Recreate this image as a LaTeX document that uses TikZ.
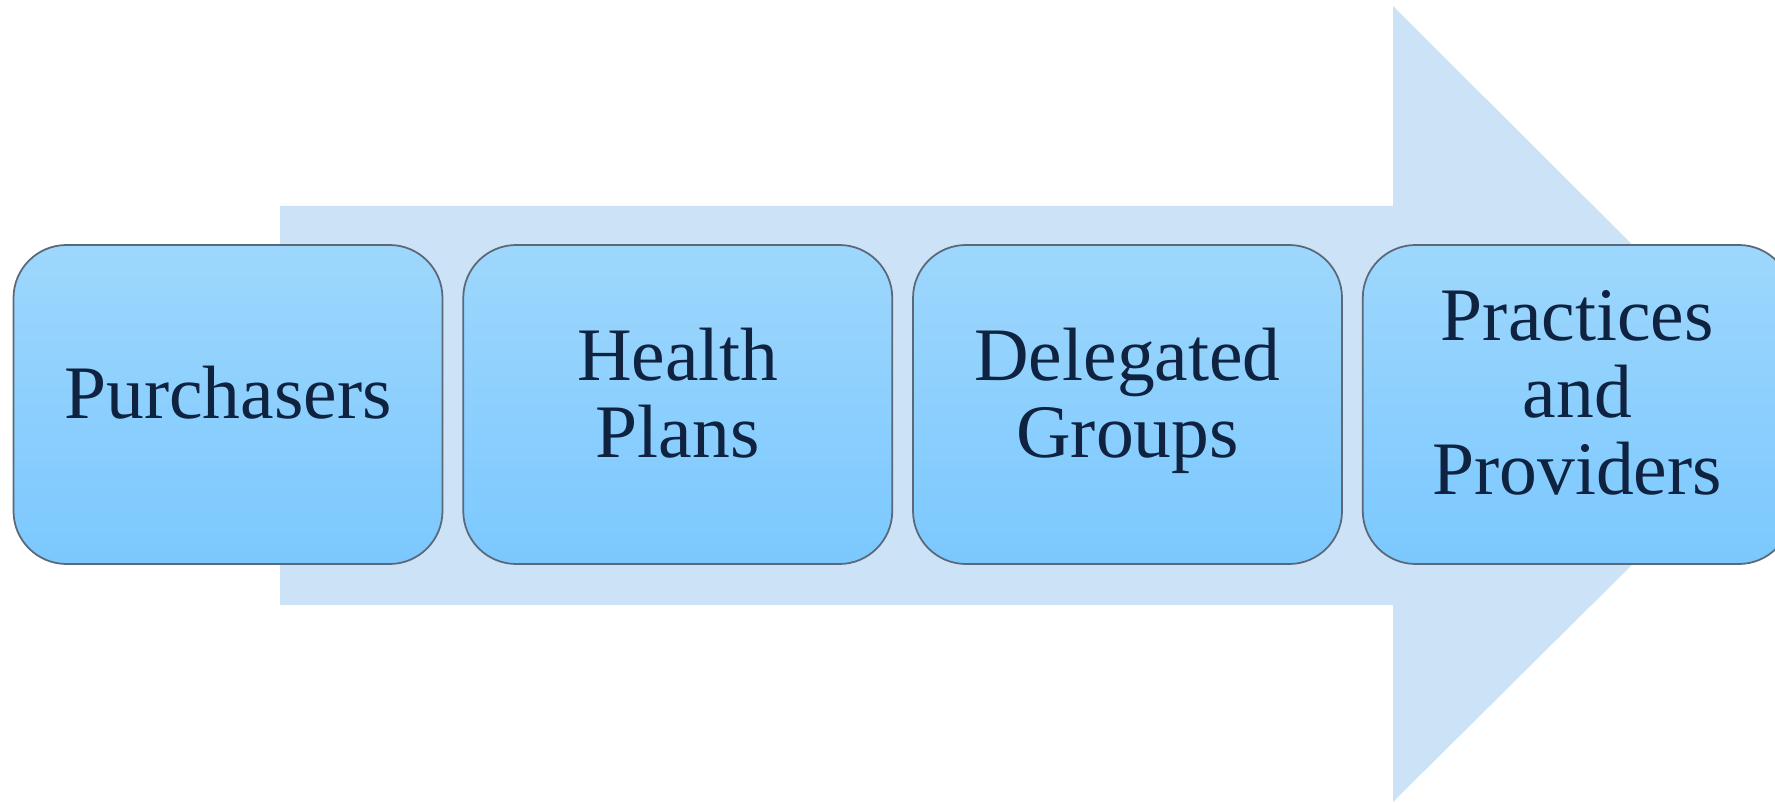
\documentclass[tikz,border=0pt]{standalone}
\usepackage{fontspec}
\setmainfont{Liberation Serif}
\usepackage{tikz}
\usetikzlibrary{positioning}
\definecolor{flowarrow}{HTML}{CCE2F7}
\definecolor{stagetop}{HTML}{9ED7FD}
\definecolor{stagebottom}{HTML}{7BC8FE}
\definecolor{stageline}{HTML}{5A6878}
\definecolor{stagetext}{HTML}{0F2341}

\begin{document}
\begin{tikzpicture}[
    stagebox/.style={
        draw=stageline,
        line width=0.5pt,
        top color=stagetop,
        bottom color=stagebottom,
        rounded corners=0.53cm,
        minimum width=4.29cm,
        minimum height=3.19cm,
        inner sep=0pt,
        align=center,
        text depth=6.8pt,
        text=stagetext,
        font=\fontsize{21.5}{21.9}\selectfont
    }
]
\useasboundingbox (0,0) rectangle (17.75,8.02);
\clip (0,0) rectangle (17.75,8.02);

% Big background arrow
\fill[flowarrow] (2.80,1.97) -- (13.93,1.97) -- (13.93,0.00) -- (17.93,3.97)
    -- (13.93,7.96) -- (13.93,5.96) -- (2.80,5.96) -- cycle;

% Stage boxes, left to right
\node[stagebox] (purch) at (2.28,3.975) {Purchasers};
\node[stagebox, right=0.19cm of purch] (plans) {Health\\Plans};
\node[stagebox, right=0.19cm of plans] (groups) {Delegated\\Groups};
\node[stagebox, right=0.19cm of groups] (provs) {Practices\\and\\Providers};

\end{tikzpicture}
\end{document}
